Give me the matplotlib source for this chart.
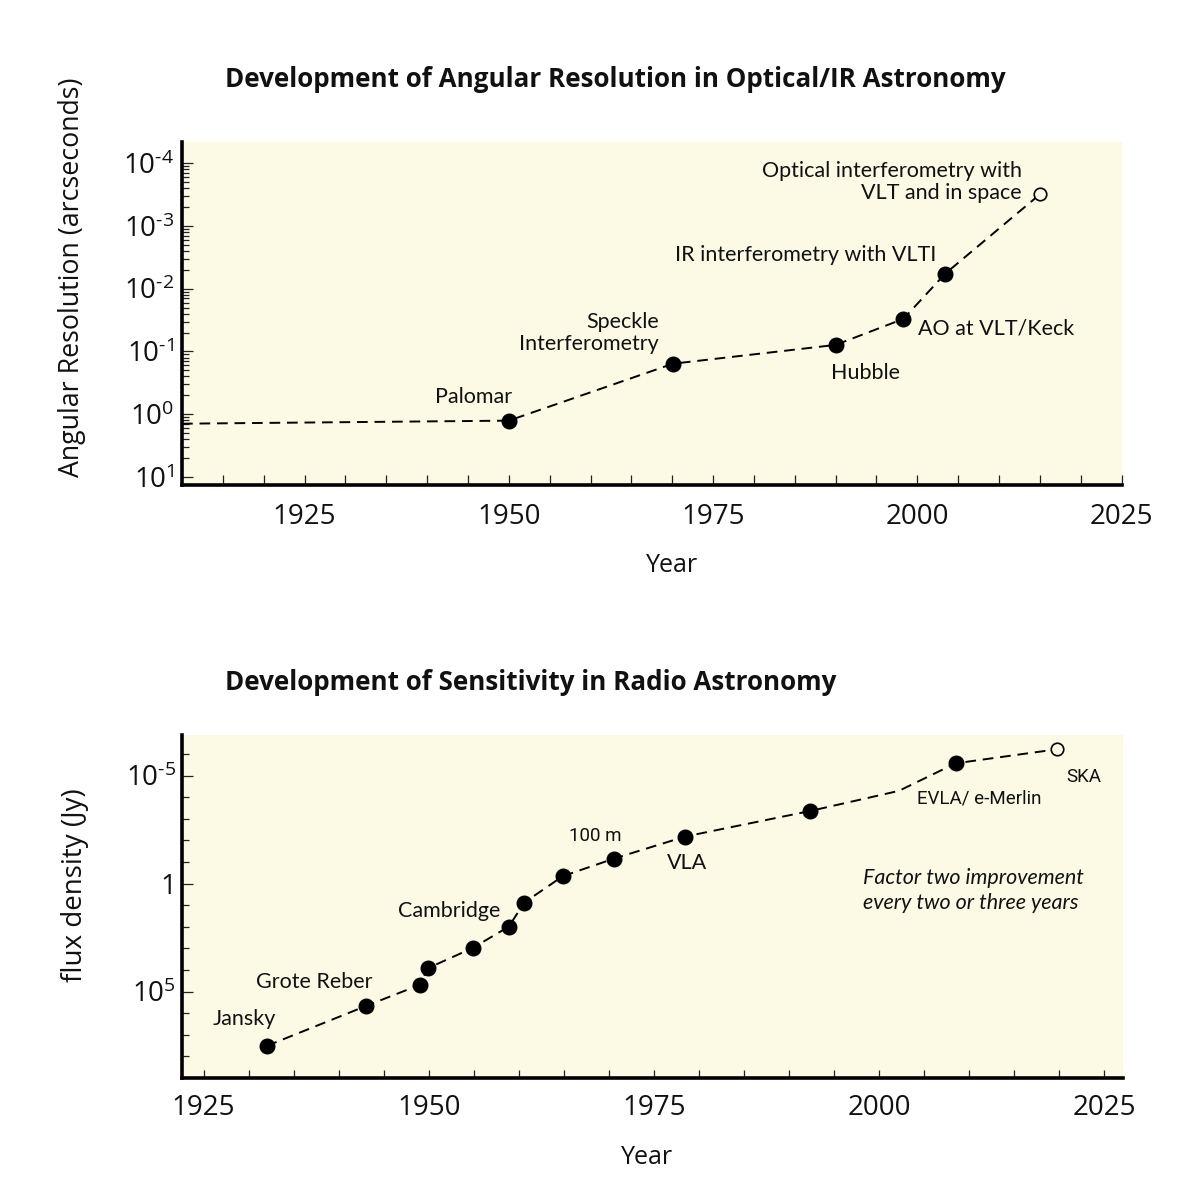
import matplotlib
matplotlib.use('Agg')
import matplotlib.pyplot as plt
from matplotlib.ticker import FixedLocator, MultipleLocator, NullFormatter

# ---------------- data: optical / IR angular resolution ----------------
res_years = [1950.0, 1970.1, 1990.0, 1998.3, 2003.4, 2015.0]
res_values = [1.27, 0.157, 0.0787, 0.0303, 0.00578, 0.000313]   # arcsec
res_planned = [False, False, False, False, False, True]
res_labels = ["Palomar", "Speckle\nInterferometry", "Hubble", "AO at VLT/Keck",
              "IR interferometry with VLTI", "Optical interferometry with\nVLT and in space"]
res_line_years = [1910.0, 1950.0, 1970.1, 1990.0, 1998.3, 2003.4, 2015.0]
res_line_values = [1.42, 1.27, 0.157, 0.0787, 0.0303, 0.00578, 0.000313]
res_ytick_exps = [-4, -3, -2, -1, 0, 1]

# ---------------- data: radio sensitivity ----------------
flux_years = [1932.0, 1943.0, 1949.0, 1949.9, 1954.9, 1958.9, 1960.6, 1964.9,
              1970.6, 1978.5, 1992.3, 2008.5, 2019.8]
flux_values = [3.3e7, 4.7e5, 4.9e4, 8.3e3, 950, 98, 7.6, 0.45,
               0.069, 6.6e-3, 4.4e-4, 2.7e-6, 6.0e-7]   # Jy (as labelled)
flux_planned = [False] * 12 + [True]
flux_labels = ["Jansky", "Grote Reber", "", "", "", "Cambridge", "", "",
               "100 m", "VLA", "", "EVLA/ e-Merlin", "SKA"]
flux_line_years = [1932.0, 1943.0, 1949.0, 1949.9, 1954.9, 1958.9, 1960.6, 1964.9,
                   1970.6, 1978.5, 1992.3, 2002.2, 2008.5, 2019.8]
flux_line_values = [3.3e7, 4.7e5, 4.9e4, 8.3e3, 950, 98, 7.6, 0.45,
                    0.069, 6.6e-3, 4.4e-4, 5.1e-5, 2.7e-6, 6.0e-7]
flux_ytick_values = [1e-5, 1, 1e5]
flux_ytick_labels = [r'$10^{\text{-}5}$', '1', r'$10^{5}$']
note_text = "Factor two improvement\nevery two or three years"

# ---------------- layout / style (not data) ----------------
res_label_layout = [((-25.7, 17.3), 'center'), ((-10, 22), 'right'), ((21.6, -19.9), 'center'),
                    ((10.4, -7), 'left'), ((-100.6, 13.2), 'center'), ((-13.1, 8.7), 'right')]
flux_label_layout = [((-16.3, 19.2), 'center'), ((-36.9, 17.3), 'center'), None, None, None,
                     ((-43.1, 11.2), 'center'), None, None, ((-13.5, 16.3), 'center'),
                     ((1.4, -19.2), 'center'), None, ((17.4, -25.2), 'center'), ((19, -19.7), 'center')]
flux_label_narrow = [False, False, False, False, False, False, False, False,
                     True, False, False, True, True]

plt.rcParams['font.family'] = ['Open Sans', 'DejaVu Sans']
plt.rcParams['mathtext.fontset'] = 'custom'
plt.rcParams['mathtext.rm'] = 'Open Sans'
plt.rcParams['mathtext.it'] = 'Open Sans:italic'
plt.rcParams['mathtext.default'] = 'regular'

BG = '#FCFAE4'
INK = '#111111'
ANN_FONT = ['Lato', 'DejaVu Sans']
TITLE_FONT = ['Open Sans', 'DejaVu Sans']
NARROW_FONT = ['Roboto', 'Liberation Sans', 'DejaVu Sans']

fig = plt.figure(figsize=(12.03, 11.94), dpi=100)
fig.patch.set_facecolor('white')
ax1 = fig.add_axes([0.1513, 0.5938, 0.7810, 0.2873])
ax2 = fig.add_axes([0.1513, 0.0972, 0.7822, 0.2872])


def style_axes(ax):
    ax.set_facecolor(BG)
    for s in ('top', 'right'):
        ax.spines[s].set_visible(False)
    for s in ('left', 'bottom'):
        ax.spines[s].set_linewidth(2.6)
        ax.spines[s].set_color('black')
    ax.tick_params(which='both', direction='in', color='#222222', width=0.9,
                   labelcolor=INK)


def draw_series(ax, lx, ly, px, py, planned):
    ax.plot(lx, ly, color='black', lw=1.4, dashes=(5.5, 3.5), zorder=2)
    for x, y, p in zip(px, py, planned):
        if p:
            ax.plot([x], [y], 'o', ms=9, mfc=BG, mec='black', mew=1.2, zorder=3)
        else:
            ax.plot([x], [y], 'o', ms=10.5, mfc='black', mec='black', zorder=3)


# ---------------- top panel ----------------
style_axes(ax1)
ax1.set_yscale('log')
draw_series(ax1, res_line_years, res_line_values, res_years, res_values, res_planned)
ax1.set_xlim(1910, 2025)
ax1.set_ylim(10 ** 1.13, 10 ** -4.34)
ax1.xaxis.set_major_locator(MultipleLocator(25))
ax1.xaxis.set_minor_locator(MultipleLocator(5))
ax1.tick_params(axis='x', which='both', length=7, labelsize=20, pad=13)
ax1.yaxis.set_major_locator(FixedLocator([10.0 ** k for k in res_ytick_exps]))
ax1.set_yticklabels([r'$10^{\text{-}%d}$' % (-k) if k < 0 else r'$10^{%d}$' % k
                     for k in res_ytick_exps])
minor = [10.0 ** (k + 1) / m for k in res_ytick_exps[:-1] for m in range(2, 10)]
ax1.yaxis.set_minor_locator(FixedLocator(minor))
ax1.yaxis.set_minor_formatter(NullFormatter())
ax1.tick_params(axis='y', which='major', length=8, labelsize=20, pad=5.5)
ax1.tick_params(axis='y', which='minor', length=5)
ax1.set_xlabel('Year', fontsize=18, color=INK)
ax1.xaxis.set_label_coords(0.5215, -0.198)
ax1.set_ylabel('Angular Resolution (arcseconds)', fontsize=19.3, color=INK)
ax1.yaxis.set_label_coords(-0.102, 0.605)

for x, y, lab, lay in zip(res_years, res_values, res_labels, res_label_layout):
    (dx, dy), ha = lay
    ax1.annotate(lab, (x, y), xytext=(dx, dy), textcoords='offset points',
                 ha=ha, va='center', multialignment=ha if ha != 'center' else 'center',
                 fontsize=15.5, family=ANN_FONT, color=INK, linespacing=1.1, zorder=4)

fig.text(0.187, 0.933, 'Development of Angular Resolution in Optical/IR Astronomy',
         fontsize=18.7, fontweight='bold', family=TITLE_FONT, color=INK, ha='left', va='center')

# ---------------- bottom panel ----------------
style_axes(ax2)
ax2.set_yscale('log')
draw_series(ax2, flux_line_years, flux_line_values, flux_years, flux_values, flux_planned)
ax2.set_xlim(1922.6, 2027.1)
ax2.set_ylim(1e9, 10 ** -6.88)
ax2.xaxis.set_major_locator(MultipleLocator(25))
ax2.xaxis.set_minor_locator(MultipleLocator(5))
ax2.tick_params(axis='x', which='both', length=6, labelsize=20, pad=11.5)
ax2.yaxis.set_major_locator(FixedLocator(flux_ytick_values))
ax2.set_yticklabels(flux_ytick_labels)
ax2.yaxis.set_minor_locator(FixedLocator([10.0 ** k for k in range(-6, 9)
                                          if 10.0 ** k not in flux_ytick_values]))
ax2.yaxis.set_minor_formatter(NullFormatter())
ax2.tick_params(axis='y', which='major', length=8, labelsize=20, pad=4)
ax2.tick_params(axis='y', which='minor', length=5)
ax2.set_xlabel('Year', fontsize=18, color=INK)
ax2.xaxis.set_label_coords(0.494, -0.195)
ax2.set_ylabel('flux density (Jy)', fontsize=20, color=INK)
ax2.yaxis.set_label_coords(-0.099, 0.563)

for x, y, lab, lay, nar in zip(flux_years, flux_values, flux_labels, flux_label_layout,
                               flux_label_narrow):
    if not lab:
        continue
    (dx, dy), ha = lay
    ax2.annotate(lab, (x, y), xytext=(dx, dy), textcoords='offset points',
                 ha=ha, va='center', fontsize=13.5 if nar else 15.5,
                 family=NARROW_FONT if nar else ANN_FONT, color=INK, zorder=4)

ax2.text(0.7237, 0.5466, note_text, transform=ax2.transAxes, ha='left', va='center',
         fontsize=15.5, style='italic', family=ANN_FONT, color=INK, linespacing=1.35)

fig.text(0.187, 0.428, 'Development of Sensitivity in Radio Astronomy',
         fontsize=18.7, fontweight='bold', family=TITLE_FONT, color=INK, ha='left', va='center')

fig.savefig('out.png', dpi=100, facecolor='white')
